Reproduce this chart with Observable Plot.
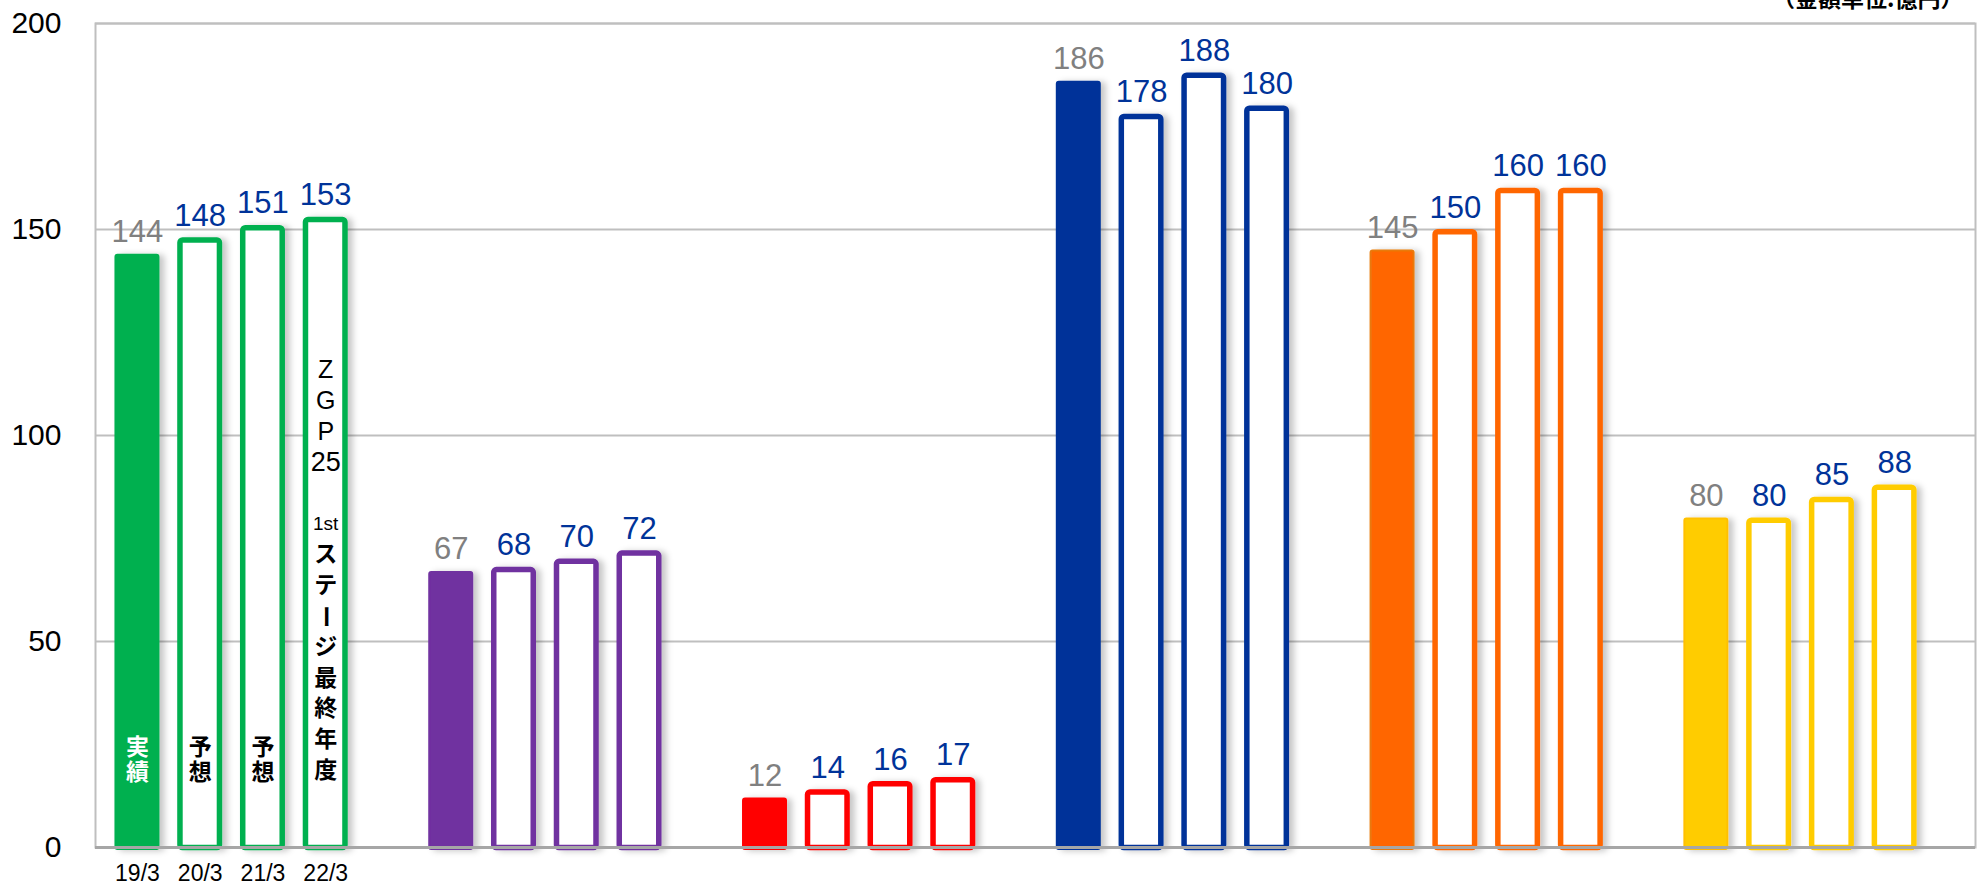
<!DOCTYPE html>
<html>
<head>
<meta charset="utf-8">
<script src="https://cdn.jsdelivr.net/npm/d3@7"></script>
<script src="https://cdn.jsdelivr.net/npm/@observablehq/plot@0.6"></script>
<style>
  html, body { margin: 0; padding: 0; background: #fff; }
  #chart { width: 1977px; height: 885px; overflow: hidden; }
</style>
</head>
<body>
<div id="chart"></div>
<script>
// ---- data ----
const segments = ["A", "B", "C", "D", "E", "F"];
const periods = ["19/3", "20/3", "21/3", "22/3"];
const segA = [144, 148, 151, 153];
const segB = [67, 68, 70, 72];
const segC = [12, 14, 16, 17];
const segD = [186, 178, 188, 180];
const segE = [145, 150, 160, 160];
const segF = [80, 80, 85, 88];
const yTicks = [0, 50, 100, 150, 200];
const unitLabel = "（金額単位:億円）";
const barNotes = [
  { segment: "A", period: "19/3", text: "実績" },
  { segment: "A", period: "20/3", text: "予想" },
  { segment: "A", period: "21/3", text: "予想" },
  { segment: "A", period: "22/3", text: "ZGP25 1stステージ最終年度" }
];

// ---- styles ----
const segColors = ["#00B050", "#7030A0", "#FF0000", "#003399", "#FF6600", "#FFCC00"];
const segFilledStroke = ["#00B050", "#7030A0", "#FF0000", "#003399", "#E97A0C", "#FFC000"];
const noteColors = { "実績": "#ffffff" };

// ---- build table ----
const segValues = [segA, segB, segC, segD, segE, segF];
const rows = [];
segments.forEach((s, si) => {
  periods.forEach((p, pi) => {
    rows.push({
      key: s + "|" + p, segment: s, period: p, value: segValues[si][pi],
      actual: pi === 0, color: segColors[si], fstroke: segFilledStroke[si]
    });
  });
});
const xDomain = [];
segments.forEach((s, si) => {
  periods.forEach(p => xDomain.push(s + "|" + p));
  if (si < segments.length - 1) xDomain.push(s + "|gap");
});

const sans = "'Liberation Sans', Arial, sans-serif";
const jp = "'Noto Sans CJK JP', sans-serif";

// vertical note text
const noteMarks = [];
barNotes.forEach(n => {
  const key = n.segment + "|" + n.period;
  const fill = noteColors[n.text] || "#000000";
  const tokens = n.text.match(/\d+[a-z]+|\d+|\s|./gu);
  const count = tokens.length;
  if (count <= 3) {
    noteMarks.push(Plot.text([{ key, t: tokens.join("\n") }], {
      x: "key", frameAnchor: "bottom", text: "t", lineAnchor: "bottom",
      lineHeight: 25 / 23, dy: -68, fill, fontSize: 23, fontWeight: "bold", fontFamily: jp
    }));
    return;
  }
  const pitch = 30.77;
  tokens.forEach((t, i) => {
    if (t.trim() === "") return;
    const isLatin = /^[A-Za-z0-9]+$/.test(t);
    const small = /^\d+[a-z]+$/.test(t);
    const digits = /^\d+$/.test(t);
    noteMarks.push(Plot.text([{ key, t }], {
      x: "key",
      frameAnchor: "bottom",
      text: "t",
      lineAnchor: "middle",
      dy: -(77 + (count - 1 - i) * pitch),
      rotate: t === "ー" ? 90 : 0,
      fill,
      fontSize: small ? 19 : (isLatin ? (digits ? 27 : 25) : 23),
      fontWeight: isLatin ? "normal" : "bold",
      fontFamily: isLatin ? sans : jp,
      ariaLabel: digits || small ? "note-narrow" : "note"
    }));
  });
});

const chart = Plot.plot({
  width: 1977,
  height: 885,
  marginLeft: 95,
  marginRight: 2,
  marginTop: 23,
  marginBottom: 38,
  style: { fontFamily: sans, fontSize: "30px", color: "#000", background: "#fff", overflow: "visible" },
  x: { type: "band", domain: xDomain, paddingInner: 0.283, paddingOuter: 0.62, align: 0.25, round: false, axis: null },
  y: { domain: [0, 200], ticks: yTicks, tickSize: 0, tickPadding: 34, label: null, tickFormat: d => String(d) },
  marks: [
    Plot.ruleY([50, 100, 150, 200], { stroke: "#bfbfbf", strokeWidth: 2 }),
    Plot.frame({ stroke: "#bfbfbf", strokeWidth: 2 }),
    Plot.barY(rows.filter(d => d.actual), {
      x: "key", y: "value", fill: d => d.color, stroke: d => d.fstroke, strokeWidth: 2,
      insetLeft: 1, insetRight: 1, insetTop: 1, insetBottom: -2, rx: 2
    }),
    Plot.barY(rows.filter(d => !d.actual), {
      x: "key", y: "value", fill: "#ffffff", stroke: d => d.color, strokeWidth: 5.5,
      insetLeft: 2.75, insetRight: 2.75, insetTop: 2.75, insetBottom: -0.5, rx: 2.5
    }),
    Plot.ruleY([0], { stroke: "#a6a6a6", strokeWidth: 3 }),
    Plot.text(rows, {
      x: "key", y: "value", text: d => String(d.value),
      fill: d => d.actual ? "#808080" : "#003399",
      lineAnchor: "bottom", dy: -12, fontSize: 31, fontFamily: sans,
      ariaLabel: "value-label"
    }),
    Plot.text(rows.filter(d => d.segment === segments[0]), {
      x: "key", frameAnchor: "bottom", text: "period", lineAnchor: "bottom", dy: 33,
      fontSize: 23, fontFamily: sans, fill: "#000", ariaLabel: "period-label"
    }),
    ...noteMarks,
    Plot.text([unitLabel], {
      frameAnchor: "top-right", text: d => d, textAnchor: "end", lineAnchor: "bottom",
      dx: -12, dy: -17, fontSize: 23, fontWeight: "bold", fontFamily: jp, fill: "#000"
    })
  ]
});

// condense text horizontally (narrow gothic look of the original)
function condense(sel, k) {
  sel.selectAll("text").each(function () {
    const el = this;
    let t = el.getAttribute("transform") || "";
    const x = el.getAttribute("x");
    if (x != null && !/em/.test(x)) {
      const y = el.getAttribute("y");
      let ty = 0;
      if (y != null && !/em/.test(y)) { ty = +y; el.removeAttribute("y"); }
      t = `translate(${+x},${ty}) ` + t;
      el.removeAttribute("x");
    }
    el.setAttribute("transform", (t + ` scale(${k},1)`).trim());
  });
}
const svg = d3.select(chart);
condense(svg.selectAll('g[aria-label="value-label"]'), 0.83);
condense(svg.selectAll('g[aria-label="period-label"]'), 0.92);
condense(svg.selectAll('g[aria-label="note-narrow"]'), 0.8);

// drop shadow on bars
const defs = svg.insert("defs", ":first-child");
const f = defs.append("filter").attr("id", "barShadow").attr("x", "-20%").attr("y", "-5%").attr("width", "150%").attr("height", "110%");
f.append("feDropShadow").attr("dx", 5).attr("dy", 1).attr("stdDeviation", 3).attr("flood-color", "#000").attr("flood-opacity", 0.22);
svg.selectAll('g[aria-label="bar"]').attr("filter", "url(#barShadow)");

document.getElementById("chart").appendChild(chart);
</script>
</body>
</html>
